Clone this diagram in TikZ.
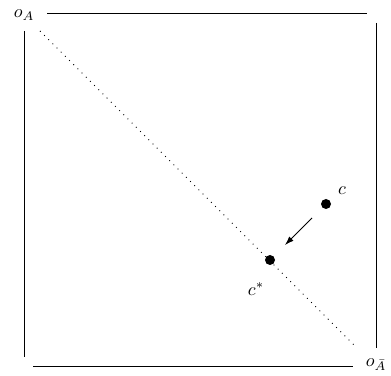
\documentclass[tikz,border=0pt]{standalone}
\usetikzlibrary{arrows.meta}
\begin{document}
\begin{tikzpicture}[x=1pt,y=1pt,
  frame/.style={line width=1pt},
  diag/.style={line width=0.9pt,dash pattern=on 0.9pt off 5pt},
  dotpt/.style={circle,fill=black,inner sep=0pt,minimum size=10pt},
  lbl/.style={inner sep=0pt,scale=1.8,transform shape},
  arr/.style={line width=0.8pt,-{Latex[length=9pt,width=6pt]}}]
\useasboundingbox (0,0) rectangle (391,375);
\node[lbl] (oA) at (24,360) {$o_A$};
\node[lbl] (oAbar) at (376,10) {$o_{\bar A}$};
\coordinate (t1) at (47,361); \coordinate (t2) at (367,361);
\coordinate (l1) at (24,344); \coordinate (l2) at (24,18);
\coordinate (r1) at (376,352); \coordinate (r2) at (376,27);
\coordinate (b1) at (33,9); \coordinate (b2) at (353,9);
\coordinate (d1) at (40,344); \coordinate (d2) at (355,29);
\draw[frame] (t1) -- (t2);
\draw[frame] (l1) -- (l2);
\draw[frame] (r1) -- (r2);
\draw[frame] (b1) -- (b2);
\draw[diag] (d1) -- (d2);
\node[dotpt] (c) at (326,171) {};
\node[dotpt] (cs) at (270,115) {};
\node[lbl] (cl) at (342,184) {$c$};
\node[lbl] (csl) at (256,86) {$c^*$};
\coordinate (a1) at (312,157); \coordinate (a2) at (285,130);
\draw[arr] (a1) -- (a2);
\end{tikzpicture}
\end{document}
